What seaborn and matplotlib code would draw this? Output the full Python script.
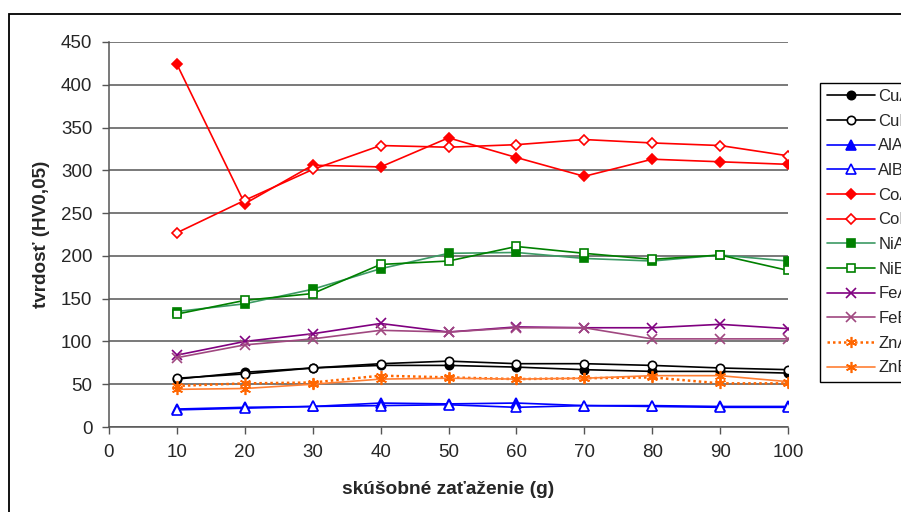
import matplotlib
matplotlib.use("Agg")
import matplotlib.pyplot as plt
from matplotlib.patches import Rectangle
import seaborn as sns
import pandas as pd

# ---- data ----
loads = [10, 20, 30, 40, 50, 60, 70, 80, 90, 100]
CuA = [56, 64, 69, 72, 72, 70, 67, 65, 65, 63]
CuB = [57, 62, 69, 74, 77, 74, 74, 72, 69, 67]
AlA = [21, 23, 24, 28, 27, 28, 25, 25, 24, 24]
AlB = [20, 22, 24, 25, 26, 23, 25, 24, 23, 23]
CoA = [424, 261, 306, 304, 338, 315, 293, 313, 310, 307]
CoB = [227, 265, 301, 329, 327, 330, 336, 332, 329, 317]
NiA = [135, 144, 161, 185, 203, 204, 197, 194, 201, 194]
NiB = [132, 148, 156, 190, 194, 211, 203, 196, 201, 183]
FeA = [84, 100, 109, 121, 111, 117, 116, 116, 120, 115]
FeB = [81, 96, 103, 113, 111, 116, 116, 103, 103, 103]
ZnA = [48, 51, 52, 60, 58, 56, 57, 58, 51, 51]
ZnB = [44, 45, 50, 56, 57, 56, 57, 60, 60, 53]

series_names = ["CuA", "CuB", "AlA", "AlB", "CoA", "CoB",
                "NiA", "NiB", "FeA", "FeB", "ZnA", "ZnB"]
series_vals = [CuA, CuB, AlA, AlB, CoA, CoB, NiA, NiB, FeA, FeB, ZnA, ZnB]

x_ticks = [0, 10, 20, 30, 40, 50, 60, 70, 80, 90, 100]
y_ticks = [0, 50, 100, 150, 200, 250, 300, 350, 400, 450]

# ---- styles ----
styles = {
    "CuA": dict(color="#000000", mec="#000000", mfc="#000000", marker="o", ls="-", ms=6, lw=1.2),
    "CuB": dict(color="#000000", mec="#000000", mfc="#ffffff", marker="o", ls="-", ms=6, lw=1.2),
    "AlA": dict(color="#0000ff", mec="#0000ff", mfc="#0000ff", marker="^", ls="-", ms=7, lw=1.2),
    "AlB": dict(color="#0000ff", mec="#0000ff", mfc="#ffffff", marker="^", ls="-", ms=7, lw=1.2),
    "CoA": dict(color="#ff0000", mec="#ff0000", mfc="#ff0000", marker="D", ls="-", ms=5.5, lw=1.2),
    "CoB": dict(color="#ff0000", mec="#ff0000", mfc="#ffffff", marker="D", ls="-", ms=5.5, lw=1.2),
    "NiA": dict(color="#3c9a64", mec="#008000", mfc="#008000", marker="s", ls="-", ms=6, lw=1.2),
    "NiB": dict(color="#008000", mec="#008000", mfc="#ffffff", marker="s", ls="-", ms=6, lw=1.2),
    "FeA": dict(color="#800080", mec="#800080", mfc="#800080", marker="x", ls="-", ms=7, lw=1.2),
    "FeB": dict(color="#a04880", mec="#a04880", mfc="#a04880", marker="x", ls="-", ms=7, lw=1.2),
    "ZnA": dict(color="#ff6600", mec="#ff6600", mfc="#ff6600", marker=(6, 2, 0), ls=(0, (1.0, 1.2)), ms=8, lw=1.8),
    "ZnB": dict(color="#ff7f33", mec="#ff6600", mfc="#ff6600", marker=(6, 2, 0), ls="-", ms=8, lw=1.2),
}

sns.set_style("white")
plt.rcParams["font.family"] = ["Liberation Sans", "DejaVu Sans"]

W, H = 901, 512
fig = plt.figure(figsize=(W / 100, H / 100), dpi=100)
ax = fig.add_axes([109 / W, 1 - 427 / H, (788 - 109) / W, (427 - 42) / H])

rows = []
for name, vals in zip(series_names, series_vals):
    for xv, yv in zip(loads, vals):
        rows.append({"load": xv, "value": yv, "series": name})
df = pd.DataFrame(rows)

handles = []
for name in series_names:
    st = styles[name]
    sub = df[df["series"] == name]
    sns.lineplot(data=sub, x="load", y="value", ax=ax, color=st["color"],
                 linestyle=st["ls"], linewidth=st["lw"], marker=st["marker"],
                 markersize=st["ms"], markeredgecolor=st["mec"],
                 markerfacecolor=st["mfc"], markeredgewidth=1.2, label=name,
                 legend=False, zorder=3)
    handles.append(ax.lines[-1])

ax.set_xlim(0, 100)
ax.set_ylim(0, 450)
ax.set_xticks(x_ticks)
ax.set_yticks(y_ticks)
ax.set_xticklabels([str(t) for t in x_ticks], fontsize=13.5)
ax.set_yticklabels([str(t) for t in y_ticks], fontsize=13.5)
ax.tick_params(axis="both", direction="out", length=5, width=1, color="#555555",
               pad=7, left=True, bottom=True)
ax.grid(axis="y", color="#555555", linewidth=1.1)
ax.grid(axis="x", visible=False)
ax.set_axisbelow(True)
for s in ["top", "right"]:
    ax.spines[s].set_visible(False)
for s in ["left", "bottom"]:
    ax.spines[s].set_color("#555555")
    ax.spines[s].set_linewidth(1.1)

ax.set_xlabel("skúšobné zaťaženie (g)", fontsize=13.8, fontweight="bold", labelpad=15)
ax.set_ylabel("tvrdosť (HV0,05)", fontsize=13.6, fontweight="bold", labelpad=8)

leg = fig.legend(handles=handles, labels=series_names, loc="upper left",
                 bbox_to_anchor=(820 / W, 1 - 82.5 / H), fontsize=12,
                 frameon=True, fancybox=False, shadow=False, framealpha=1,
                 edgecolor="#000000", handlelength=2.9, handletextpad=0.2,
                 labelspacing=0.58, borderpad=0.4, borderaxespad=0)
leg.get_frame().set_linewidth(1.0)

# outer chart-area border (extends past right and bottom edges)
fig.patches.append(Rectangle((9 / W, -0.5), 2.0, 1.5 - 14 / H, transform=fig.transFigure,
                             fill=False, edgecolor="#000000", linewidth=1.3))

fig.savefig("out.png", dpi=100)
